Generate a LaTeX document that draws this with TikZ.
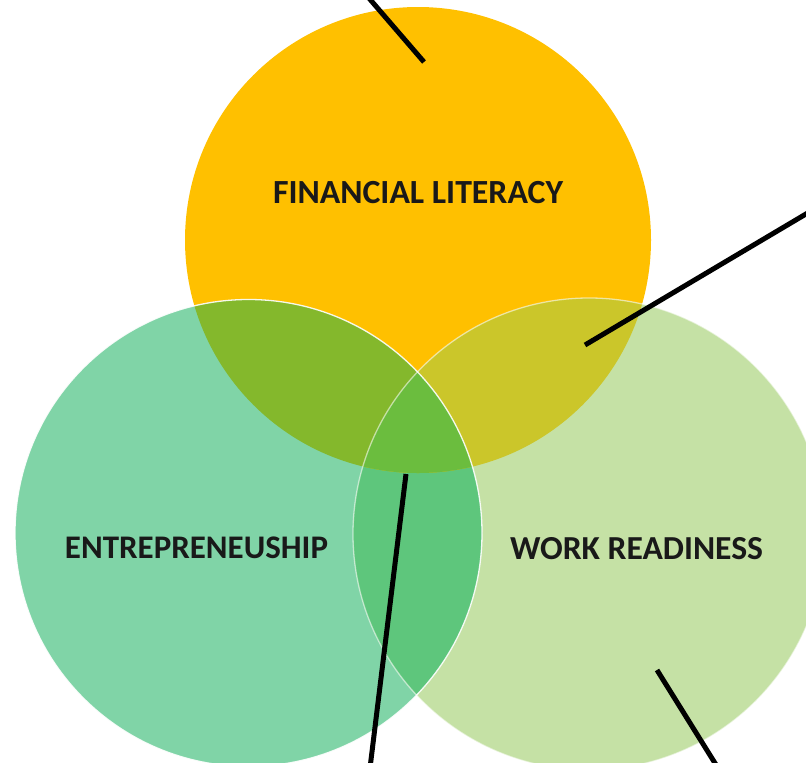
\documentclass[tikz,border=0pt]{standalone}
\usepackage{fontspec}
\setmainfont{Carlito}
\definecolor{cTop}{HTML}{FFC000}
\definecolor{cLeft}{HTML}{80D4A7}
\definecolor{cRight}{HTML}{C5E1A5}
\definecolor{cTL}{HTML}{84B82C}
\definecolor{cTR}{HTML}{CBC62A}
\definecolor{cLR}{HTML}{5EC67C}
\definecolor{cAll}{HTML}{6BBD3E}
\tikzset{
  lbl/.style={font=\bfseries, text=black!90, inner sep=0pt},
  leader/.style={draw=black, line width=5pt},
  rim/.style={draw=white, line width=1.3pt}
}
\begin{document}
\begin{tikzpicture}[x=1pt,y=-1pt]
\useasboundingbox (0,0) rectangle (806,763);
\clip (0,0) rectangle (806,763);
\coordinate (T) at (418,240);
\coordinate (L) at (248.5,533);
\coordinate (R) at (589,534);
\def\rT{233pt}\def\rL{233.5pt}\def\rR{236pt}
% base circles
\fill[cTop] (T) circle[radius=\rT];
\fill[cLeft] (L) circle[radius=\rL];
\fill[cRight] (R) circle[radius=\rR];
% left-right overlap
\begin{scope}
  \clip (L) circle[radius=\rL];
  \fill[cLR] (R) circle[radius=\rR];
\end{scope}
% overlaps with top
\begin{scope}
  \clip (T) circle[radius=\rT];
  \fill[cTL] (L) circle[radius=\rL];
  \fill[cTR] (R) circle[radius=\rR];
  \clip (L) circle[radius=\rL];
  \fill[cAll] (R) circle[radius=\rR];
\end{scope}
% rims
\draw[rim, opacity=0.55] (R) circle[radius=\rR];
\draw[rim, opacity=0.9] (L) circle[radius=\rL];
% labels
\node[lbl] (fin) at (418,192.5) {\resizebox{290pt}{!}{FINANCIAL LITERACY}};
\node[lbl] (ent) at (196.5,548) {\resizebox{263pt}{!}{ENTREPRENEUSHIP}};
\node[lbl] (work) at (636.5,549) {\resizebox{253pt}{!}{WORK READINESS}};
% leader lines
\coordinate (a1) at (368,-3);  \coordinate (a2) at (424,62);
\coordinate (b1) at (811,211); \coordinate (b2) at (585,345);
\coordinate (c1) at (406,474); \coordinate (c2) at (370,768);
\coordinate (d1) at (657,670); \coordinate (d2) at (718,768);
\draw[leader] (a1) -- (a2);
\draw[leader] (b1) -- (b2);
\draw[leader] (c1) -- (c2);
\draw[leader] (d1) -- (d2);
\end{tikzpicture}
\end{document}
